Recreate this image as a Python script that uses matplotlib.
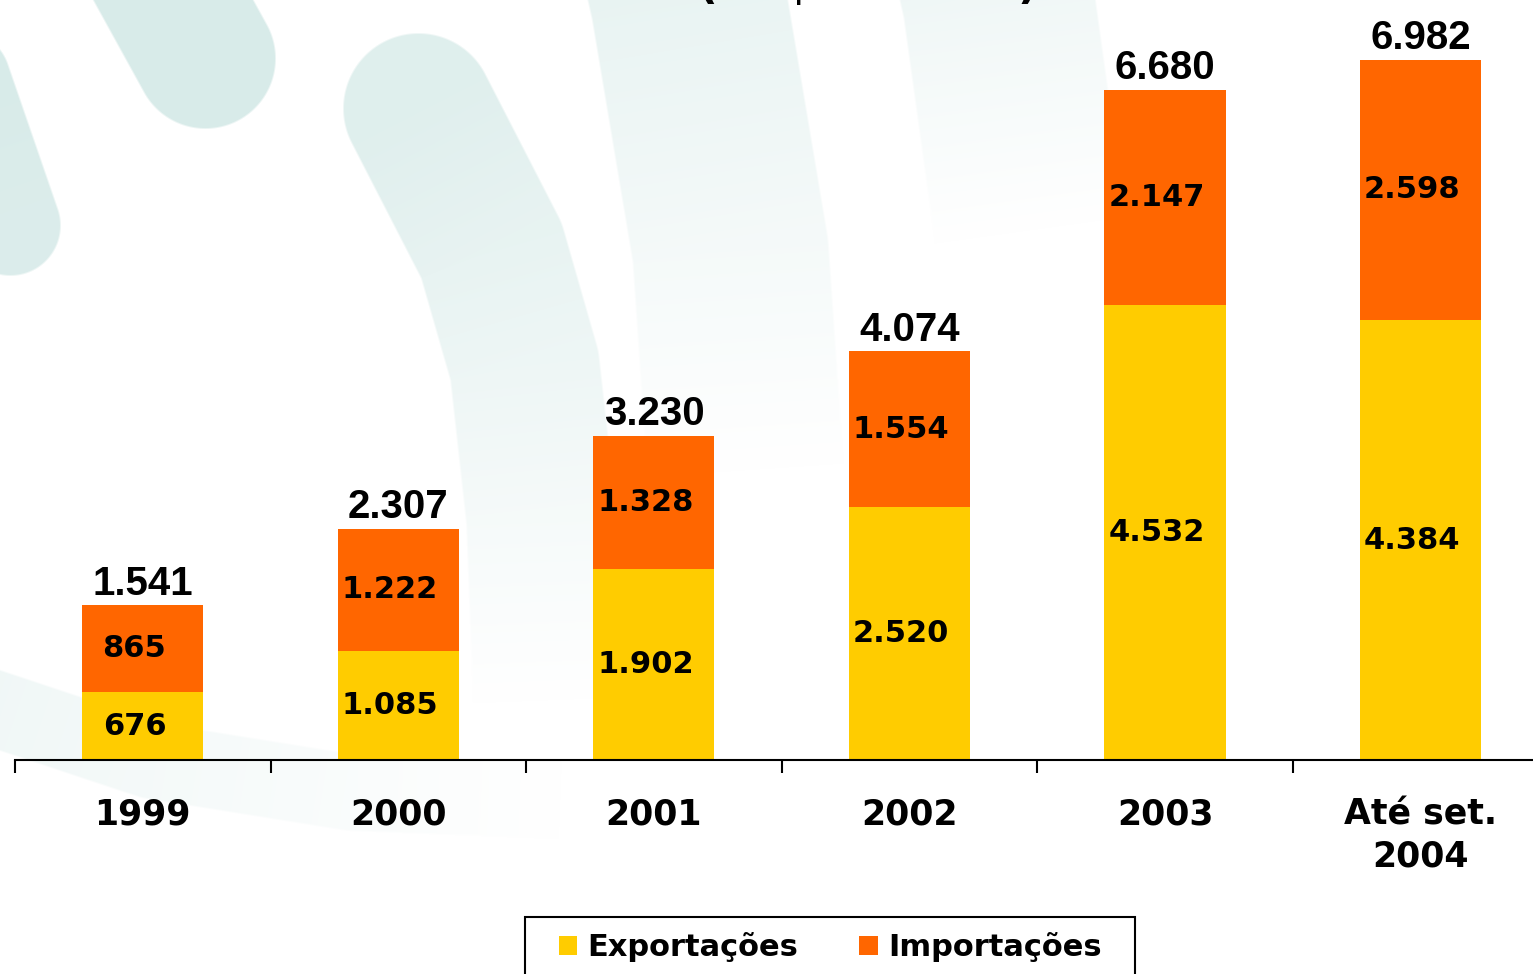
import numpy as np
import matplotlib
matplotlib.use("Agg")
import matplotlib.pyplot as plt
from matplotlib.patches import Patch, Rectangle

categories = ["1999", "2000", "2001", "2002", "2003", "Até set.\n2004"]
exportacoes = [676, 1085, 1902, 2520, 4532, 4384]
importacoes = [865, 1222, 1328, 1554, 2147, 2598]
totais = [1541, 2307, 3230, 4074, 6680, 6982]
title = "(US$ milhões)"

YELLOW = "#FFCC00"
ORANGE = "#FF6600"
BAR_FONT = "DejaVu Sans"
TOTAL_FONT = "Liberation Sans"
W, H = 1533, 974


def fmt(v):
    return f"{v:,}".replace(",", ".")


def watermark():
    # faint teal swooshes of the slide background, painted as an image
    yy, xx = np.mgrid[0:H, 0:W].astype(float)
    strength = np.zeros((H, W))
    # (path points, half width px, strength at start, strength at end)
    bands = [
        ([(-40, 80), (10, 225)], 50, 1.0, 0.9),
        ([(140, -60), (205, 58)], 70, 1.0, 1.0),
        ([(418, 108), (491, 250), (524, 365), (541, 518), (548, 700)], 75, 0.8, 0.0),
        ([(670, -80), (688, 0), (730, 250), (745, 470)], 98, 0.65, 0.0),
        ([(980, -80), (998, 0), (1030, 230)], 96, 0.5, 0.0),
        ([(-60, 690), (150, 760), (350, 792), (560, 800)], 38, 0.4, 0.0),
    ]
    for pts, hw, s0, s1 in bands:
        pts = np.array(pts, float)
        seglen = np.hypot(*np.diff(pts, axis=0).T)
        cum = np.concatenate([[0], np.cumsum(seglen)])
        best = np.full((H, W), np.inf)
        tpar = np.zeros((H, W))
        for k in range(len(pts) - 1):
            a, b = pts[k], pts[k + 1]
            d = b - a
            u = ((xx - a[0]) * d[0] + (yy - a[1]) * d[1]) / (d @ d)
            u = np.clip(u, 0, 1)
            dist = np.hypot(xx - a[0] - u * d[0], yy - a[1] - u * d[1])
            m = dist < best
            best[m] = dist[m]
            tpar[m] = ((cum[k] + u * seglen[k]) / cum[-1])[m]
        edge = np.clip((hw - best) / 2.0 + 0.5, 0, 1)
        s = (s0 + (s1 - s0) * tpar) * edge
        strength = np.maximum(strength, s)
    teal = np.array([216, 235, 233]) / 255.0
    img = 1 - strength[..., None] * (1 - teal)
    return img


fig = plt.figure(figsize=(15.33, 9.74), dpi=100)

bg = fig.add_axes([0, 0, 1, 1], zorder=0)
bg.imshow(watermark(), extent=(0, W, H, 0), interpolation="bilinear")
bg.set_xlim(0, W)
bg.set_ylim(H, 0)
bg.axis("off")

ax = fig.add_axes([15 / W, 214 / H, 1518 / W, 760 / H], zorder=1)
ax.patch.set_alpha(0)

x = np.arange(len(categories))
w = 0.474
ax.bar(x, exportacoes, w, color=YELLOW, label="Exportações", zorder=2)
ax.bar(x, importacoes, w, bottom=exportacoes, color=ORANGE,
       label="Importações", zorder=2)

for i in range(len(categories)):
    e, m = exportacoes[i], importacoes[i]
    ax.annotate(fmt(e), (x[i], e / 2), xytext=(-6, 0), textcoords="offset points",
                ha="center", va="center", fontsize=22, fontweight="bold",
                family=BAR_FONT, zorder=3)
    ax.annotate(fmt(m), (x[i], e + m / 2), xytext=(-6, 0), textcoords="offset points",
                ha="center", va="center", fontsize=22, fontweight="bold",
                family=BAR_FONT, zorder=3)
    ax.annotate(fmt(totais[i]), (x[i], e + m), xytext=(0, 2), textcoords="offset points",
                ha="center", va="bottom", fontsize=29, fontweight="bold",
                family=TOTAL_FONT, zorder=3, annotation_clip=False)

ax.set_xlim(-0.5, 5.44)
ax.set_ylim(0, 7577)
for s in ["top", "right", "left"]:
    ax.spines[s].set_visible(False)
ax.spines["bottom"].set_linewidth(1.5)
ax.set_yticks([])
ax.set_xticks(x)
ax.set_xticklabels(categories, fontsize=25, fontweight="bold", family=BAR_FONT,
                   linespacing=1.3)
ax.tick_params(axis="x", which="major", length=0, pad=27)
ax.set_xticks(np.arange(-0.5, 5.5, 1.0), minor=True)
ax.tick_params(axis="x", which="minor", length=9, width=1.5, direction="out")

fig.text(868 / W, 1 + 1 / H, title, ha="center", va="baseline",
         fontsize=31, fontweight="bold", family=BAR_FONT)

handles = [Patch(facecolor=YELLOW, label="Exportações"),
           Patch(facecolor=ORANGE, label="Importações")]
fig.legend(handles=handles, loc="center left", ncol=2,
           bbox_to_anchor=(559 / W, 1 - 947 / H),
           prop={"family": BAR_FONT, "weight": "bold", "size": 22},
           handlelength=0.6, handleheight=0.6, handletextpad=0.33,
           columnspacing=2.0, borderpad=0, borderaxespad=0, frameon=False)
fig.add_artist(Rectangle((525 / W, -0.05), 610 / W, (H - 917) / H + 0.05,
                         transform=fig.transFigure, fill=False,
                         edgecolor="black", linewidth=1.5))

fig.savefig("out.png", dpi=100)
